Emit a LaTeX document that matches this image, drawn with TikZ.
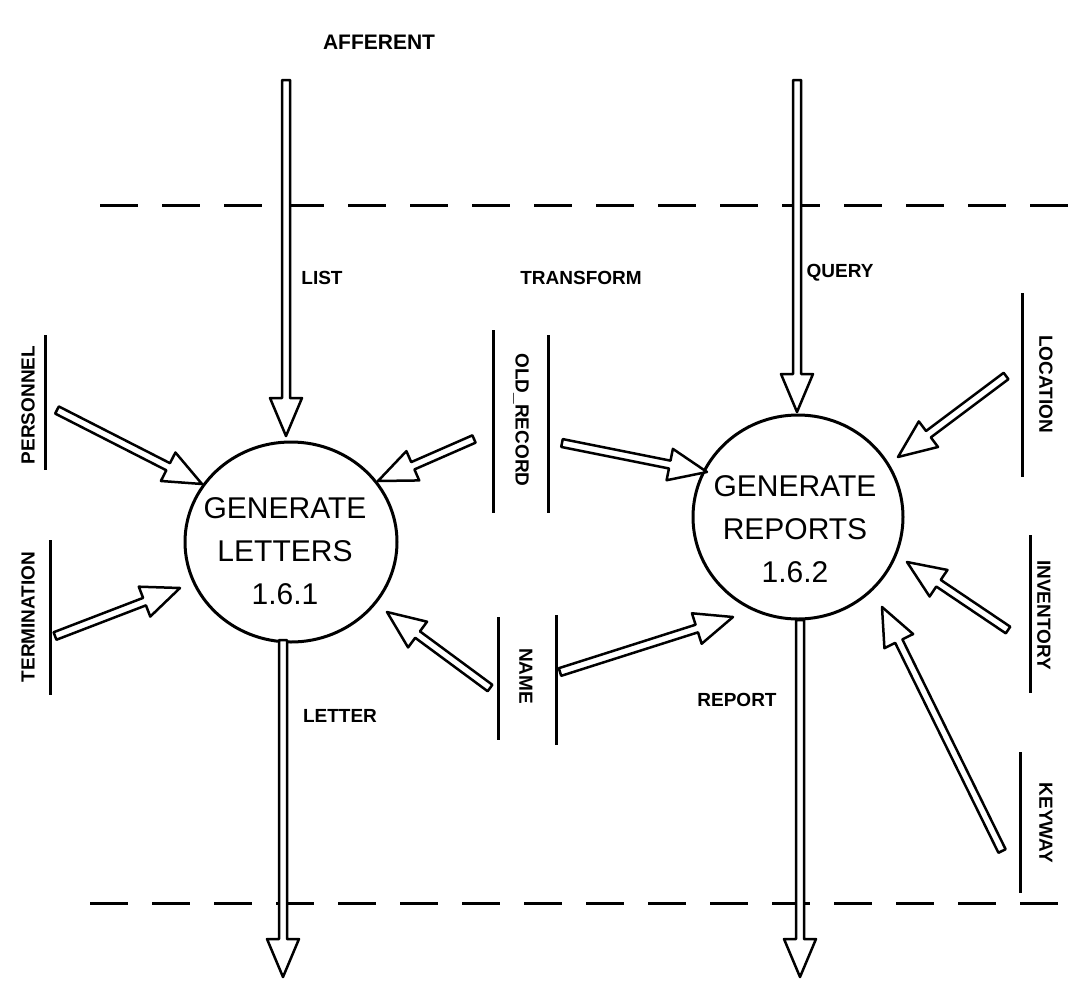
\documentclass[tikz,border=0pt]{standalone}
\usepackage{fontspec}
\setmainfont{Liberation Sans}
\usetikzlibrary{calc,shapes.geometric}
\tikzset{
 lbl/.style={font=\fontsize{19}{22}\selectfont\bfseries, inner sep=0pt},
 proc/.style={draw, ellipse, line width=3pt, inner sep=0pt},
 ptext/.style={font=\fontsize{30}{43}\selectfont, align=center, inner sep=0pt},
 bar/.style={line width=3pt},
 flow/.style={draw, line width=2.5pt, fill=white, line join=round},
 bound/.style={line width=3pt, dash pattern=on 38pt off 24pt},
}
\newcommand{\flowarrow}[2]{%
 \coordinate (fa-h) at ($(#2)!38pt!(#1)$);
 \path[flow] ($(#1)!4pt!90:(#2)$) -- ($(fa-h)!4pt!90:(#2)$) -- ($(fa-h)!16pt!90:(#2)$) -- (#2) -- ($(fa-h)!16pt!-90:(#2)$) -- ($(fa-h)!4pt!-90:(#2)$) -- ($(#1)!4pt!-90:(#2)$) -- cycle;}
\begin{document}
\begin{tikzpicture}[x=1pt,y=-1pt]
\useasboundingbox[fill=white] (0,0) rectangle (1076,980);

% boundaries
\coordinate (tl) at (100,205); \coordinate (tr) at (1076,205);
\coordinate (bl) at (90,903); \coordinate (br) at (1076,903);
\draw[bound] (tl) -- (tr);
\draw[bound] (bl) -- (br);

% processes
\node[proc, minimum width=212pt, minimum height=200pt] (c1) at (291,542) {};
\node[ptext] (c1t) at (285,551) {GENERATE\\LETTERS\\1.6.1};
\node[proc, minimum width=210pt, minimum height=204pt] (c2) at (798,517) {};
\node[ptext] (c2t) at (795,529) {GENERATE\\REPORTS\\1.6.2};

% labels
\node[lbl, font=\fontsize{21}{24}\selectfont\bfseries] (aff) at (379,42) {AFFERENT};
\node[lbl] (list) at (322,278) {LIST};
\node[lbl] (trans) at (581,278) {TRANSFORM};
\node[lbl] (query) at (840,273) {QUERY};
\node[lbl] (letter) at (340,716) {LETTER};
\node[lbl] (report) at (737,700) {REPORT};

% data stores
\node[lbl, rotate=90] (pers) at (28,405) {PERSONNEL};
\draw[bar] (45,335) -- (45,470);
\node[lbl, rotate=90] (term) at (28,617) {TERMINATION};
\draw[bar] (50,540) -- (50,695);
\node[lbl, rotate=-90] (old) at (521,420) {OLD\_RECORD};
\draw[bar] (493,330) -- (493,513);
\draw[bar] (548,335) -- (548,513);
\node[lbl, rotate=-90] (name) at (526,676) {NAME};
\draw[bar] (498,617) -- (498,740);
\draw[bar] (556,615) -- (556,745);
\node[lbl, rotate=-90] (loc) at (1046,384) {LOCATION};
\draw[bar] (1022,293) -- (1022,477);
\node[lbl, rotate=-90] (inv) at (1044,615) {INVENTORY};
\draw[bar] (1030,535) -- (1030,693);
\node[lbl, rotate=-90] (key) at (1046,823) {KEYWAY};
\draw[bar] (1020,752) -- (1020,893);

% arrow end points
\coordinate (listS) at (286,80);   \coordinate (listE) at (286,436);
\coordinate (queryS) at (797,80);  \coordinate (queryE) at (797,412);
\coordinate (letS) at (283,640);   \coordinate (letE) at (283,977);
\coordinate (repS) at (800,620);   \coordinate (repE) at (800,977);
\coordinate (persS) at (57,410);   \coordinate (persE) at (202,484);
\coordinate (termS) at (55,636);   \coordinate (termE) at (180,588);
\coordinate (old1S) at (474,439);  \coordinate (old1E) at (378,481);
\coordinate (old2S) at (562,443);  \coordinate (old2E) at (707,472);
\coordinate (name1S) at (490,688); \coordinate (name1E) at (387,612);
\coordinate (name2S) at (560,672); \coordinate (name2E) at (733,617);
\coordinate (locS) at (1006,376);  \coordinate (locE) at (898,457);
\coordinate (invS) at (1008,630);  \coordinate (invE) at (907,562);
\coordinate (keyS) at (1002,851);  \coordinate (keyE) at (882,607);

\flowarrow{listS}{listE}
\flowarrow{queryS}{queryE}
\flowarrow{letS}{letE}
\flowarrow{repS}{repE}
\flowarrow{persS}{persE}
\flowarrow{termS}{termE}
\flowarrow{old1S}{old1E}
\flowarrow{old2S}{old2E}
\flowarrow{name1S}{name1E}
\flowarrow{name2S}{name2E}
\flowarrow{locS}{locE}
\flowarrow{invS}{invE}
\flowarrow{keyS}{keyE}
\end{tikzpicture}
\end{document}
